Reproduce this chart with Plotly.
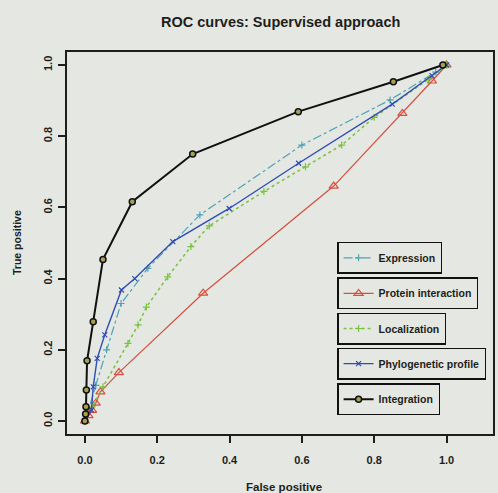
import plotly.graph_objects as go

# ---- data ----
expr_fp = [0.0, 0.01, 0.03, 0.06, 0.10, 0.174, 0.318, 0.60, 0.844, 0.97, 1.0]
expr_tp = [0.0, 0.03, 0.10, 0.20, 0.33, 0.429, 0.579, 0.775, 0.902, 0.98, 1.0]

prot_fp = [0.0, 0.01, 0.02, 0.03, 0.043, 0.094, 0.327, 0.688, 0.878, 0.96, 1.0]
prot_tp = [0.0, 0.015, 0.03, 0.05, 0.082, 0.136, 0.359, 0.660, 0.864, 0.955, 1.0]

loc_fp = [0.0, 0.02, 0.05, 0.119, 0.147, 0.17, 0.229, 0.293, 0.344, 0.495, 0.61, 0.71, 0.80, 0.95, 1.0]
loc_tp = [0.0, 0.04, 0.096, 0.218, 0.27, 0.32, 0.405, 0.49, 0.548, 0.645, 0.714, 0.775, 0.853, 0.96, 1.0]

phy_fp = [0.0, 0.018, 0.023, 0.034, 0.055, 0.101, 0.138, 0.243, 0.399, 0.591, 0.85, 0.96, 1.0]
phy_tp = [0.0, 0.031, 0.096, 0.176, 0.242, 0.368, 0.40, 0.504, 0.597, 0.724, 0.89, 0.97, 1.0]

int_fp = [0.0, 0.002, 0.003, 0.004, 0.006, 0.023, 0.05, 0.131, 0.298, 0.59, 0.853, 0.99]
int_tp = [0.0, 0.02, 0.04, 0.087, 0.169, 0.279, 0.454, 0.616, 0.75, 0.869, 0.953, 1.0]

series_names = ["Expression", "Protein interaction", "Localization",
                "Phylogenetic profile", "Integration"]
tick_vals = [0.0, 0.2, 0.4, 0.6, 0.8, 1.0]
tick_text = ["0.0", "0.2", "0.4", "0.6", "0.8", "1.0"]

BG = "#e4e7e2"
FONT = "Liberation Sans, Arial, sans-serif"
INK = "#1e1e1a"

fig = go.Figure()

styles = [
    dict(x=expr_fp, y=expr_tp, color="#4fa3b5", dash="dashdot", width=1.2,
         symbol="cross-thin-open", size=5),
    dict(x=prot_fp, y=prot_tp, color="#d5503f", dash="solid", width=1.2,
         symbol="triangle-up-open", size=8),
    dict(x=loc_fp, y=loc_tp, color="#78c23c", dash="dot", width=1.5,
         symbol="cross-thin-open", size=5),
    dict(x=phy_fp, y=phy_tp, color="#2f4fb5", dash="solid", width=1.4,
         symbol="x-thin-open", size=5),
    dict(x=int_fp, y=int_tp, color="#111111", dash="solid", width=2,
         symbol="circle", size=6),
]

legend_names = ["legend", "legend2", "legend3", "legend4", "legend5"]

for i, (name, s) in enumerate(zip(series_names, styles)):
    marker = dict(symbol=s["symbol"], size=s["size"], color=s["color"],
                  line=dict(color=s["color"], width=1.2))
    if name == "Integration":
        marker = dict(symbol="circle", size=6, color="#a6a052",
                      line=dict(color="#111111", width=1.5))
    fig.add_trace(go.Scatter(
        x=s["x"], y=s["y"], name="<b>" + name + "</b>", mode="lines+markers",
        line=dict(color=s["color"], dash=s["dash"], width=s["width"]),
        marker=marker, legend=legend_names[i]))

# separate boxed legends (R style, one box per entry)
legend_tops = [0.503, 0.410, 0.318, 0.226, 0.133]
common_leg = dict(x=0.634, xanchor="left", yanchor="top", bgcolor=BG,
                  bordercolor="#111111", borderwidth=1.5,
                  font=dict(family=FONT, size=10.5, color=INK),
                  itemwidth=30)
layout_legends = {}
for ln, top in zip(legend_names, legend_tops):
    layout_legends[ln] = dict(common_leg, y=top)

axis_common = dict(
    tickmode="array", tickvals=tick_vals, ticktext=tick_text,
    ticks="outside", ticklen=7, tickwidth=1.5, tickcolor=INK,
    showgrid=False, zeroline=False, showline=True, linecolor=INK,
    linewidth=1.5, mirror=True,
    tickfont=dict(family=FONT, size=11, color=INK, weight="bold"),
)

fig.update_layout(
    width=498, height=493,
    margin=dict(l=67, r=3, t=52, b=59),
    paper_bgcolor=BG, plot_bgcolor=BG,
    showlegend=True,
    xaxis=dict(axis_common, range=[-0.0495, 1.1285], ticklabelstandoff=8),
    yaxis=dict(axis_common, range=[-0.0365, 1.0365], tickangle=-90,
               ticklabelstandoff=2),
    annotations=[
        dict(text="<b>ROC curves: Supervised approach</b>", xref="paper",
             yref="paper", x=0.5, y=1.0, yshift=30, showarrow=False,
             xanchor="center", yanchor="middle",
             font=dict(family=FONT, size=14.5, color=INK)),
        dict(text="<b>False positive</b>", xref="paper", yref="paper", x=0.51,
             y=0, yshift=-53, showarrow=False, xanchor="center",
             yanchor="middle",
             font=dict(family=FONT, size=11.5, color=INK)),
        dict(text="<b>True positive</b>", xref="paper", yref="paper", x=0,
             xshift=-50, y=0.5, showarrow=False, textangle=-90,
             xanchor="center", yanchor="middle",
             font=dict(family=FONT, size=10.5, color=INK)),
    ],
    **layout_legends,
)

fig.write_html("out.html")
